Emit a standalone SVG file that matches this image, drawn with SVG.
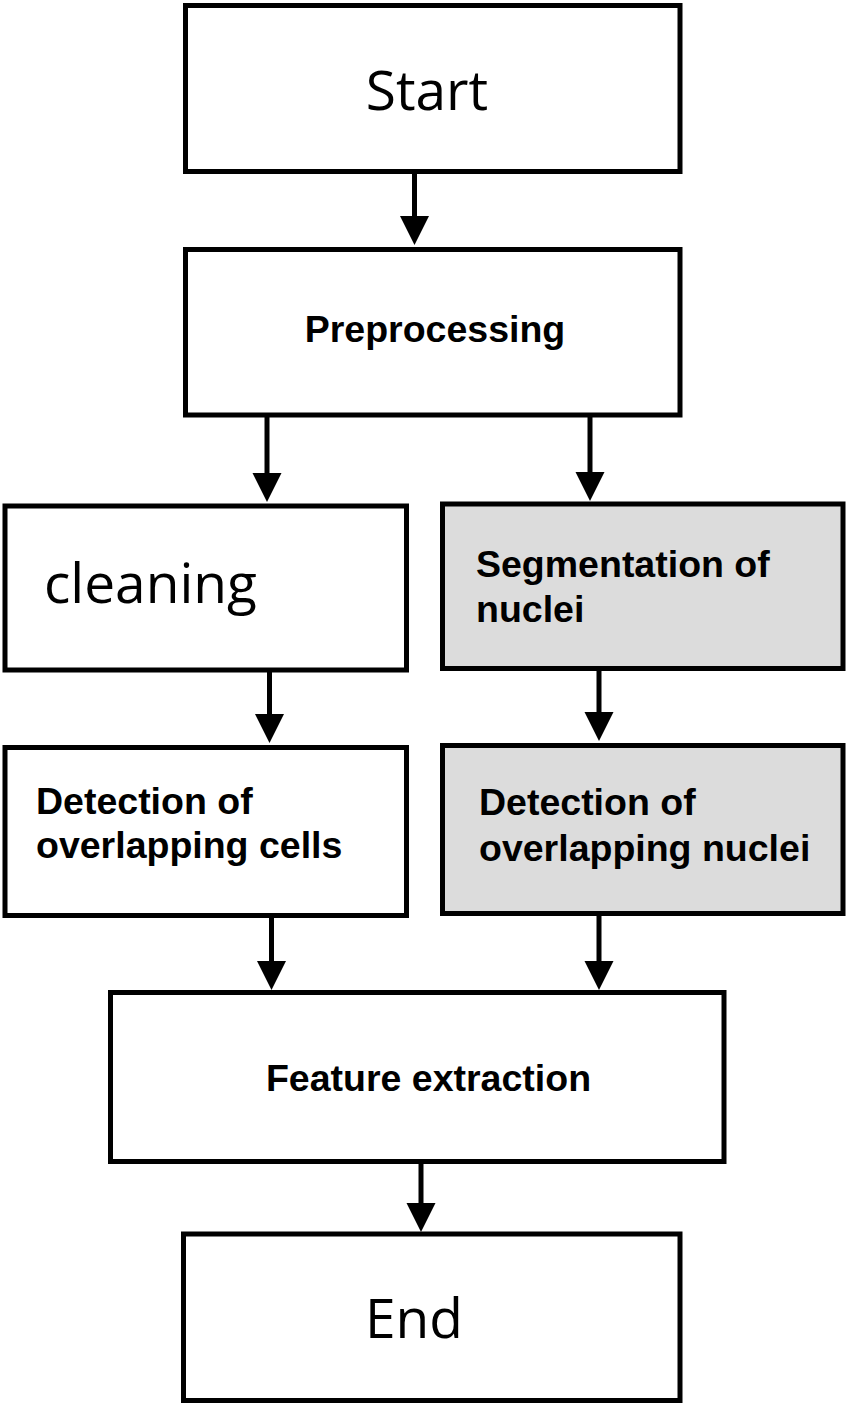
<svg xmlns="http://www.w3.org/2000/svg" width="850" height="1406" viewBox="0 0 850 1406">
<defs>
<style>
.box{fill:#ffffff;stroke:#000000;stroke-width:5}
.grey{fill:#dcdcdc}
.big{font-family:"Open Sans","Liberation Sans",sans-serif;font-size:55px;fill:#000}
.bold{font-family:"Liberation Sans",Arial,sans-serif;font-weight:bold;font-size:37.5px;fill:#000}
.conn{stroke:#000;stroke-width:5;fill:none}
</style>
<marker id="ah" markerUnits="userSpaceOnUse" markerWidth="30" markerHeight="30" refX="0" refY="14.5" orient="auto" viewBox="0 0 30 30">
<path d="M0,0 L29,14.5 L0,29 Z" fill="#000"/>
</marker>
</defs>
<rect width="850" height="1406" fill="#ffffff"/>
<g id="connectors">
<line class="conn" x1="414.5" y1="172" x2="414.5" y2="216" marker-end="url(#ah)"/>
<line class="conn" x1="267" y1="416" x2="267" y2="473" marker-end="url(#ah)"/>
<line class="conn" x1="590" y1="416" x2="590" y2="472" marker-end="url(#ah)"/>
<line class="conn" x1="269.5" y1="671" x2="269.5" y2="714" marker-end="url(#ah)"/>
<line class="conn" x1="599" y1="669" x2="599" y2="712" marker-end="url(#ah)"/>
<line class="conn" x1="271.5" y1="917" x2="271.5" y2="961" marker-end="url(#ah)"/>
<line class="conn" x1="599" y1="915" x2="599" y2="961" marker-end="url(#ah)"/>
<line class="conn" x1="421" y1="1163" x2="421" y2="1203" marker-end="url(#ah)"/>
</g>
<g id="start">
<rect class="box" x="185.5" y="5.5" width="494.5" height="166"/>
<text class="big" x="427" y="110" text-anchor="middle">Start</text>
</g>
<g id="preprocessing">
<rect class="box" x="185.5" y="249.5" width="494.5" height="165.5"/>
<text class="bold" x="435" y="342" text-anchor="middle">Preprocessing</text>
</g>
<g id="cleaning">
<rect class="box" x="5" y="506" width="401.5" height="164"/>
<text class="big" x="44" y="603">cleaning</text>
</g>
<g id="segmentation">
<rect class="box grey" x="442.5" y="504" width="400.5" height="164.5"/>
<text class="bold" x="476" y="577">Segmentation of</text>
<text class="bold" x="476" y="622">nuclei</text>
</g>
<g id="detection-cells">
<rect class="box" x="5" y="747.5" width="401.5" height="168"/>
<text class="bold" x="36" y="814">Detection of</text>
<text class="bold" x="36" y="858">overlapping cells</text>
</g>
<g id="detection-nuclei">
<rect class="box grey" x="442.5" y="745.5" width="400.5" height="168"/>
<text class="bold" x="479" y="815">Detection of</text>
<text class="bold" x="479" y="861">overlapping nuclei</text>
</g>
<g id="feature-extraction">
<rect class="box" x="110.5" y="992.5" width="613.5" height="169"/>
<text class="bold" x="428.5" y="1091" text-anchor="middle">Feature extraction</text>
</g>
<g id="end">
<rect class="box" x="183.5" y="1234" width="496.5" height="166.5"/>
<text class="big" x="414" y="1338" text-anchor="middle">End</text>
</g>
</svg>
